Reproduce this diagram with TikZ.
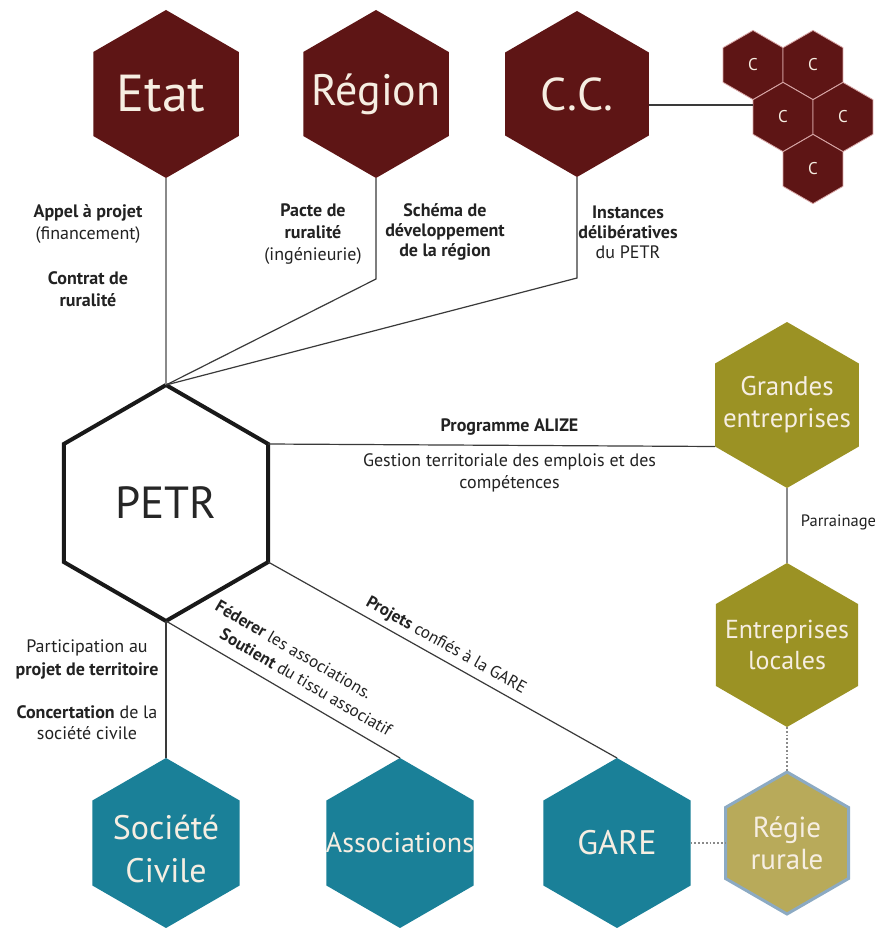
\documentclass[tikz,border=0pt]{standalone}
\usepackage{fontspec}
\setmainfont{PT Sans}
\usetikzlibrary{shapes.geometric}
\definecolor{cMaroon}{HTML}{5E1515}
\definecolor{cTeal}{HTML}{1A8098}
\definecolor{cOlive}{HTML}{9B9224}
\definecolor{cRegieFill}{HTML}{B8AA5A}
\definecolor{cRegieLine}{HTML}{8CAAC3}
\definecolor{cLine}{HTML}{3A3A3A}
\definecolor{cGrey}{HTML}{8A8A8A}
\definecolor{cCream}{HTML}{F6EEE2}
\definecolor{cTxt}{HTML}{222222}
\definecolor{cSep}{HTML}{D8A7A7}
\begin{document}
\begin{tikzpicture}[x=1pt,y=-1pt,
  hexa/.style={regular polygon, regular polygon sides=6, shape border rotate=30,
    inner sep=0pt, outer sep=0pt, minimum size=#1pt},
  redhex/.style={hexa=#1, fill=cMaroon},
  tealhex/.style={hexa=#1, fill=cTeal},
  olivehex/.style={hexa=#1, fill=cOlive},
  regiehex/.style={hexa=#1, fill=cRegieFill, draw=cRegieLine, line width=3pt},
  petrhex/.style={hexa=#1, fill=white, draw=black!90, line width=4pt},
  chex/.style={hexa=#1, fill=cMaroon, draw=cSep, line width=0.8pt},
  bigl/.style={text=cCream, align=center, inner sep=0pt},
  conn/.style={draw=cLine, line width=1.2pt},
  gconn/.style={draw=cGrey, line width=1.8pt},
  dotc/.style={draw=cGrey, line width=1.8pt, dotted},
  lbl/.style={text=cTxt, align=center, inner sep=0pt, font=\fontsize{18}{22}\selectfont},
  slbl/.style={lbl, sloped, font=\fontsize{17}{20}\selectfont}
]
\fill[white] (0,0) rectangle (881,928);
\useasboundingbox (0,0) rectangle (881,928);

% top nodes
\node[redhex=168, label={[bigl, xshift=-5pt, font=\fontsize{52}{52}\selectfont]center:Etat}] (etat) at (166,94) {};
\node[redhex=168, label={[bigl, font=\fontsize{44}{44}\selectfont]center:Région}] (region) at (376,94) {};
\node[redhex=166, label={[bigl, font=\fontsize{46}{46}\selectfont]center:C.C.}] (cc) at (577,94) {};

% small C cluster
\node[chex=69.2, label={[bigl, font=\fontsize{17}{17}\selectfont]center:C}] (c1) at (753,65) {};
\node[chex=69.2, label={[bigl, font=\fontsize{17}{17}\selectfont]center:C}] (c2) at (813,65) {};
\node[chex=69.2, label={[bigl, font=\fontsize{17}{17}\selectfont]center:C}] (c3) at (783,117) {};
\node[chex=69.2, label={[bigl, font=\fontsize{17}{17}\selectfont]center:C}] (c4) at (843,117) {};
\node[chex=69.2, label={[bigl, font=\fontsize{17}{17}\selectfont]center:C}] (c5) at (813,169) {};

% PETR
\node[petrhex=236, label={[text=black!85, inner sep=0pt, font=\fontsize{45}{45}\selectfont]center:PETR}] (petr) at (166,503) {};

% right column
\node[olivehex=166, label={[bigl, font=\fontsize{27}{32}\selectfont]center:Grandes\\entreprises}] (grand) at (787,405) {};
\node[olivehex=164, label={[bigl, font=\fontsize{26}{31}\selectfont]center:Entreprises\\locales}] (entr) at (787,645) {};
\node[regiehex=142, label={[bigl, font=\fontsize{29}{32}\selectfont]center:Régie\\rurale}] (regie) at (787,843) {};

% bottom row
\node[tealhex=170, label={[bigl, yshift=-6pt, font=\fontsize{34}{43}\selectfont]center:Société\\Civile}] (soc) at (166,843) {};
\node[tealhex=170, label={[bigl, font=\fontsize{28}{28}\selectfont]center:Associations}] (assoc) at (400,843) {};
\node[tealhex=170, label={[bigl, font=\fontsize{34}{34}\selectfont]center:GARE}] (gare) at (617,843) {};

% bend points
\coordinate (rb) at (376,279);
\coordinate (cb) at (577,278);
\coordinate (ccr) at ([yshift=-11pt]cc.east);

% connectors
\draw[gconn] (etat.south) -- (petr.north);
\draw[conn] (region.south) -- (rb) -- (petr.north);
\draw[conn] (cc.south) -- (cb) -- (petr.north);
\draw[conn] (ccr) -- (ccr -| c3.west);

\draw[conn] (petr.30) -- (grand.210)
  node[lbl, pos=0.54, yshift=18pt] (alize) {\textbf{Programme ALIZE}}
  node[lbl, pos=0.54, yshift=-28pt] (gestion) {Gestion territoriale des emplois et des\\compétences};
\draw[gconn] (grand.south) -- (entr.north)
  node[lbl, anchor=west, pos=0.46, xshift=13pt, font=\fontsize{16.5}{20}\selectfont] (parr) {Parrainage};
\draw[dotc] (entr.south) -- (regie.north);
\draw[dotc] (gare.east) -- (regie.west);

\draw[conn] (petr.south) -- (soc.north);
\draw[conn] (petr.south) -- (assoc.north)
  node[slbl, pos=0.46, yshift=40pt] (fed) {\textbf{Féderer} les associations.}
  node[slbl, pos=0.56, yshift=18pt] (sout) {\textbf{Soutient} du tissu associatif};
\draw[conn] (petr.330) -- (gare.north)
  node[slbl, pos=0.49, yshift=14pt] (proj) {\textbf{Projets} confiés à la GARE};

% text labels
\node[lbl] (l1) at (88,224) {\textbf{Appel à projet}\\(financement)};
\node[lbl] (l2) at (88,289) {\textbf{Contrat de}\\\textbf{ruralité}};
\node[lbl] (l3) at (313,234) {\textbf{Pacte de}\\\textbf{ruralité}\\(ingénieurie)};
\node[lbl, font=\fontsize{18}{20}\selectfont] (l4) at (445,232) {\textbf{Schéma de}\\\textbf{développement}\\\textbf{de la région}};
\node[lbl, font=\fontsize{18}{20}\selectfont] (l5) at (628,232) {\textbf{Instances}\\\textbf{délibératives}\\du PETR};
\node[lbl, font=\fontsize{18}{23}\selectfont] (l6) at (87,659) {Participation au\\\textbf{projet de territoire}};
\node[lbl, font=\fontsize{18}{21}\selectfont] (l7) at (87,723) {\textbf{Concertation} de la\\société civile};
\end{tikzpicture}
\end{document}
